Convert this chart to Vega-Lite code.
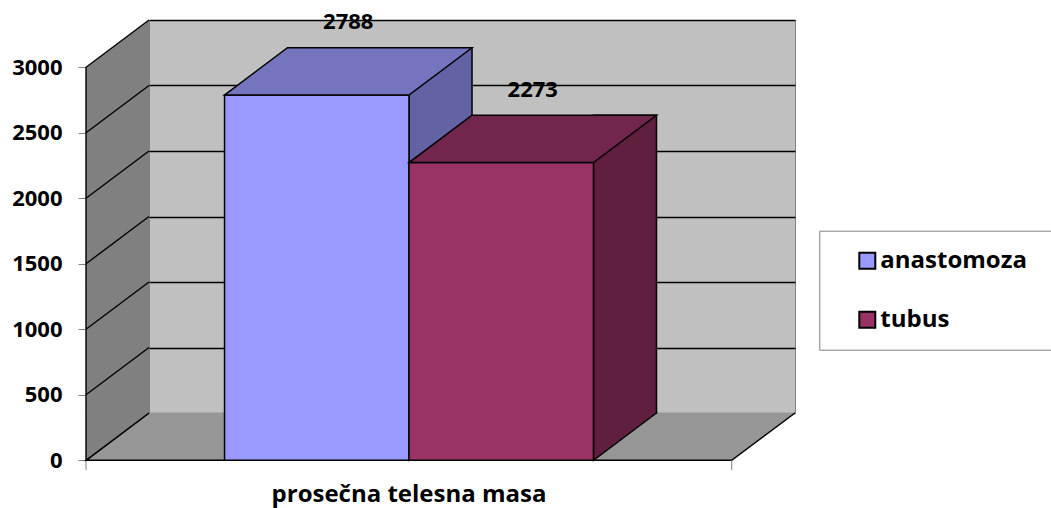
{
  "$schema": "https://vega.github.io/schema/vega-lite/v6.json",
  "width": 646,
  "height": 393,
  "autosize": {"type": "none"},
  "padding": {"left": 149, "top": 20, "right": 256, "bottom": 95},
  "background": "white",
  "config": {
    "view": {"fill": "#C0C0C0", "stroke": "#808080", "strokeWidth": 1},
    "font": "Open Sans"
  },
  "data": {
    "values": [
      {"series": "anastomoza", "value": 2788},
      {"series": "tubus", "value": 2273}
    ]
  },
  "resolve": {"axis": {"x": "independent", "y": "independent"}},
  "layer": [
    {
      "transform": [{"filter": "datum.series === 'anastomoza'"}],
      "mark": {
        "type": "point",
        "shape": "M-323,0L-386,47.3L259.7,47.3L323,0",
        "size": 4,
        "filled": true,
        "fill": "#969696",
        "stroke": "black",
        "strokeWidth": 1.5,
        "opacity": 1
      },
      "encoding": {
        "y": {
          "datum": 0,
          "type": "quantitative",
          "scale": {"domain": [0, 3000], "nice": false, "zero": true},
          "axis": {
            "orient": "left",
            "grid": true,
            "gridColor": {"condition": {"test": "datum.value === 0", "value": "#707070"}, "value": "black"},
            "gridWidth": 1.4,
            "labels": false,
            "ticks": false,
            "domain": false,
            "title": null,
            "values": [0, 500, 1000, 1500, 2000, 2500, 3000]
          }
        }
      }
    },
    {
      "transform": [{"filter": "datum.series === 'anastomoza'"}],
      "mark": {
        "type": "point",
        "shape": "M-386,47.3L-386,57M259.7,47.3L259.7,57",
        "size": 4,
        "filled": false,
        "stroke": "#808080",
        "strokeWidth": 1,
        "opacity": 1
      },
      "encoding": {
        "y": {"datum": 0, "type": "quantitative", "axis": null}
      }
    },
    {
      "transform": [{"filter": "datum.series === 'anastomoza'"}],
      "mark": {
        "type": "point",
        "shape": "M-323,0L-386,47.3L-386,-345.7L-323,-393M-386,-18.2L-323,-65.5M-386,-83.7L-323,-131M-386,-149.2L-323,-196.5M-386,-214.7L-323,-262M-386,-280.2L-323,-327.5",
        "size": 4,
        "filled": true,
        "fill": "#808080",
        "stroke": "black",
        "strokeWidth": 1.4,
        "opacity": 1
      },
      "encoding": {
        "y": {"datum": 0, "type": "quantitative", "axis": null}
      }
    },
    {
      "mark": {"type": "bar", "width": 63, "xOffset": 60.75, "stroke": "black", "strokeWidth": 1.5},
      "encoding": {
        "x": {"field": "series", "type": "nominal", "scale": {"paddingInner": 0, "paddingOuter": 0.751}, "axis": null},
        "y": {"field": "value", "type": "quantitative", "axis": null},
        "fill": {"condition": {"test": "datum.series === 'tubus'", "value": "#601F3F"}, "value": "#6262A5"}
      }
    },
    {
      "mark": {
        "type": "point",
        "shape": "M92.25,-2L92.25,0L29.25,47.3L29.25,-2",
        "size": 4,
        "filled": true,
        "stroke": "black",
        "strokeWidth": 1.5,
        "opacity": 1
      },
      "encoding": {
        "x": {"field": "series", "type": "nominal", "axis": null},
        "y": {"datum": 0, "type": "quantitative", "axis": null},
        "fill": {"condition": {"test": "datum.series === 'tubus'", "value": "#601F3F"}, "value": "#6262A5"}
      }
    },
    {
      "mark": {"type": "bar", "xOffset": -63, "yOffset": 47.3, "y2Offset": 47.3, "stroke": "black", "strokeWidth": 1.5},
      "encoding": {
        "x": {
          "field": "series",
          "type": "nominal",
          "axis": {
            "orient": "bottom",
            "title": "prosečna telesna masa",
            "labels": false,
            "ticks": false,
            "domain": false,
            "grid": false,
            "offset": 47,
            "titleX": 259.5,
            "titleY": 41,
            "titleBaseline": "alphabetic",
            "titleAlign": "center",
            "titleFont": "Open Sans",
            "titleFontWeight": "bold",
            "titleFontSize": 24,
            "titleColor": "black"
          }
        },
        "y": {
          "field": "value",
          "type": "quantitative",
          "axis": {
            "orient": "left",
            "offset": 63,
            "tickOffset": 47.3,
            "grid": false,
            "domain": false,
            "ticks": true,
            "tickSize": 8,
            "tickColor": "#808080",
            "tickWidth": 1,
            "labelPadding": 16,
            "format": "d",
            "labelFont": "Open Sans",
            "labelFontWeight": "bold",
            "labelFontSize": 22,
            "labelColor": "black",
            "title": null,
            "values": [0, 500, 1000, 1500, 2000, 2500, 3000]
          }
        },
        "color": {
          "field": "series",
          "type": "nominal",
          "scale": {"domain": ["anastomoza", "tubus"], "range": ["#9999FF", "#993366"]},
          "legend": {
            "title": "\u00a0",
            "titleOrient": "right",
            "titleFontSize": 1,
            "titlePadding": 40,
            "orient": "none",
            "legendX": 670.3,
            "legendY": 210.7,
            "padding": 18,
            "strokeColor": "#7F7F7F",
            "fillColor": "white",
            "symbolType": "square",
            "symbolSize": 256,
            "symbolStrokeColor": "black",
            "symbolStrokeWidth": 2,
            "symbolOffset": 18,
            "labelOffset": 1,
            "labelFont": "Open Sans",
            "labelFontWeight": "bold",
            "labelFontSize": 24,
            "labelColor": "black",
            "rowPadding": 35
          }
        }
      }
    },
    {
      "mark": {
        "type": "point",
        "shape": "M-155.25,47.3L29.25,47.3L92.25,0L-92.25,0Z",
        "size": 4,
        "filled": true,
        "stroke": "black",
        "strokeWidth": 1.5,
        "opacity": 1
      },
      "encoding": {
        "x": {"field": "series", "type": "nominal", "axis": null},
        "y": {"field": "value", "type": "quantitative", "axis": null},
        "fill": {"condition": {"test": "datum.series === 'tubus'", "value": "#73264D"}, "value": "#7575BF"}
      }
    },
    {
      "mark": {
        "type": "text",
        "dx": -31.5,
        "dy": -18.5,
        "align": "center",
        "baseline": "alphabetic",
        "font": "Open Sans",
        "fontWeight": "bold",
        "fontSize": 22,
        "color": "black"
      },
      "encoding": {
        "x": {"field": "series", "type": "nominal", "axis": null},
        "y": {"field": "value", "type": "quantitative", "axis": null},
        "text": {"field": "value", "type": "quantitative", "format": "d"}
      }
    }
  ]
}
